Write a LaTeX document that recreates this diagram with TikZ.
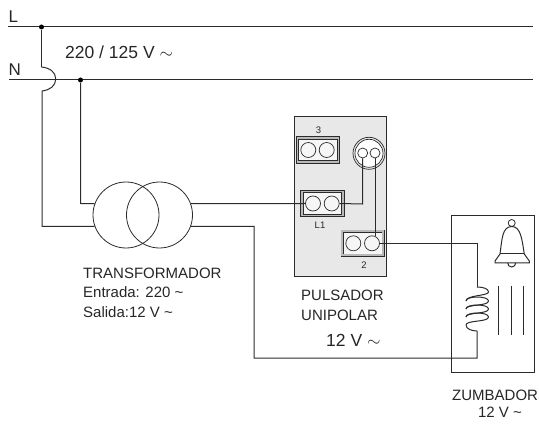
\documentclass[tikz,border=0pt]{standalone}
\usepackage{fontspec}
\setmainfont{Liberation Sans}
\usetikzlibrary{calc}
\definecolor{wirecol}{gray}{0.17}
\definecolor{platecol}{gray}{0.91}
\tikzset{
  wire/.style={draw=wirecol, line width=1pt},
  dotnode/.style={circle, fill=black, inner sep=0pt, minimum size=5pt},
  bigcoil/.style={circle, draw=wirecol, line width=0.8pt, minimum size=66pt, inner sep=0pt},
  clamp/.style={rectangle, draw=wirecol, line width=0.8pt, double=gray!55, double distance=1.8pt, fill=white!60!platecol, minimum width=41pt, minimum height=24pt, inner sep=0pt},
  screw/.style={circle, draw=wirecol, line width=0.7pt, minimum size=15pt, inner sep=0pt},
  lbl/.style={anchor=base west, inner sep=0pt, text=black!85, font=\fontsize{15}{16}\selectfont},
  biglbl/.style={lbl, font=\fontsize{17.5}{18}\selectfont},
  tinylbl/.style={anchor=base, inner sep=0pt, text=black!85, font=\fontsize{9.5}{10}\selectfont}
}
\begin{document}
\begin{tikzpicture}[x=1pt, y=-1pt]
  \useasboundingbox (0,0) rectangle (539,425);

  % Mains
  \coordinate (Lstart) at (8,27);
  \coordinate (Lend) at (533,27);
  \coordinate (Nstart) at (9,80);
  \coordinate (Nend) at (533,80);
  \draw[wire] (Lstart) -- (Lend);
  \draw[wire] (Nstart) -- (Nend);
  \node[dotnode] (dotL) at (41.5,27) {};
  \node[dotnode] (dotN) at (80.5,80) {};

  % Plate
  \node[rectangle, draw=wirecol, fill=platecol, line width=0.8pt, minimum width=92.5pt, minimum height=160pt, inner sep=0pt] (plate) at (340.3,196.7) {};

  % Clamps
  \node[clamp] (clampA) at (318,150) {};
  \node[clamp] (clampB) at (322.3,203.5) {};
  \node[clamp] (clampC) at (362.8,243.3) {};
  \foreach \n/\x/\y in {a1/308.3/150, a2/326.7/150, b1/313/203.5, b2/331.7/203.5, c1/353.3/243.3, c2/372/243.3}
    \node[screw] (\n) at (\x,\y) {};

  % Lamp
  \node[circle, draw=wirecol, line width=0.7pt, minimum size=32pt, inner sep=0pt] (lampout) at (369,153.3) {};
  \node[circle, draw=wirecol, line width=0.7pt, fill=white, minimum size=28pt, inner sep=0pt] (lamp) at (369,153.3) {};
  \node[screw, minimum size=10pt] (lampa) at (362.7,153) {};
  \node[screw, minimum size=10pt] (lampb) at (375,153) {};

  % Transformer
  \node[bigcoil] (tra) at (126,215) {};
  \node[bigcoil] (trb) at (159.5,215) {};

  % Buzzer box
  \node[rectangle, draw=wirecol, line width=0.9pt, minimum width=83.7pt, minimum height=157pt, inner sep=0pt] (box) at (492.8,293.5) {};

  % Wiring
  \draw[wire] (dotL) -- (41.5,67) coordinate (jumpa);
  \coordinate (jumpb) at (42,91);
  \draw[wire] (jumpa) .. controls (50,68) and (55.7,72) .. (55.7,79) .. controls (55.7,86) and (50,90) .. (jumpb);
  \draw[wire] (jumpb) -- (42,226.5) -- (tra.200);
  \draw[wire] (dotN) -- (80.5,203.5) -- (tra.160);
  \draw[wire] (trb.20) -- (b1.west);
  \draw[wire] (trb.-20) -- (254,226.5) -- (254,358) -- (477,358) -- (477,331) coordinate (coilb);
  \draw[wire] (c2.east) -- (477,243.3) -- (477,287) coordinate (coilt);
  \draw[wire] (b2.east) -- (362.7,204) -- (lampa.south);
  \draw[wire] (lampb.south) -- (375,235.8);

  % Coil
  \draw[wire] (coilt) .. controls (484,287) and (488.5,289) .. (488.5,292)
    .. controls (488.5,296) and (466,295) .. (466,301);
  \foreach \y in {301,309,317}
    \draw[wire] (466,\y) .. controls (466,\y-5.3) and (488.5,\y-5.3) .. (488.5,\y)
      .. controls (488.5,\y+5.3) and (466,\y+3) .. (466,\y+8);
  \draw[wire] (466,325) .. controls (466,329) and (472,331) .. (coilb);

  % Bell
  \node[circle, draw=wirecol, line width=0.8pt, minimum size=7pt, inner sep=0pt] (ball) at (511.7,223) {};
  \draw[wire] (500,254) .. controls (502,240) and (502,226.5) .. (511.7,226.5)
    .. controls (521,226.5) and (522,240) .. (524.3,254)
    -- (529.3,261) -- (529.3,263) -- (495,263) -- (495,261) -- cycle;
  \draw[wire] (500,254) -- (524.3,254);
  \draw[wire] (507.7,263) arc[start angle=180, end angle=360, radius=4pt];

  % Striker lines
  \foreach \x in {498.3,511.7,523.3}
    \draw[wirecol, line width=0.8pt] (\x,286) -- (\x,335);

  % Texts
  \node[lbl, font=\fontsize{17}{18}\selectfont] (labL) at (8.5,23) {L};
  \node[lbl, font=\fontsize{17}{18}\selectfont] (labN) at (8.5,76) {N};
  \node[biglbl] (labmains) at (65,59) {220 / 125 V $\sim$};
  \node[lbl] (labtra) at (83,279) {TRANSFORMADOR};
  \node[lbl] (labin) at (83,298) {Entrada: 220 \char`\~};
  \node[lbl] (labout) at (83,317) {Salida:12 V \char`\~};
  \node[lbl] (labpul) at (301,301) {PULSADOR};
  \node[lbl] (labuni) at (301,320) {UNIPOLAR};
  \node[biglbl] (labtwelve) at (326,346) {12 V $\sim$};
  \node[lbl] (labzum) at (452,400) {ZUMBADOR};
  \node[lbl, anchor=base] (labvolt) at (500,417) {12 V \char`\~};
  \node[tinylbl] (lab3) at (318.5,134) {3};
  \node[tinylbl] (lab1) at (320,229) {L1};
  \node[tinylbl] (lab2) at (364,269) {2};
\end{tikzpicture}
\end{document}
